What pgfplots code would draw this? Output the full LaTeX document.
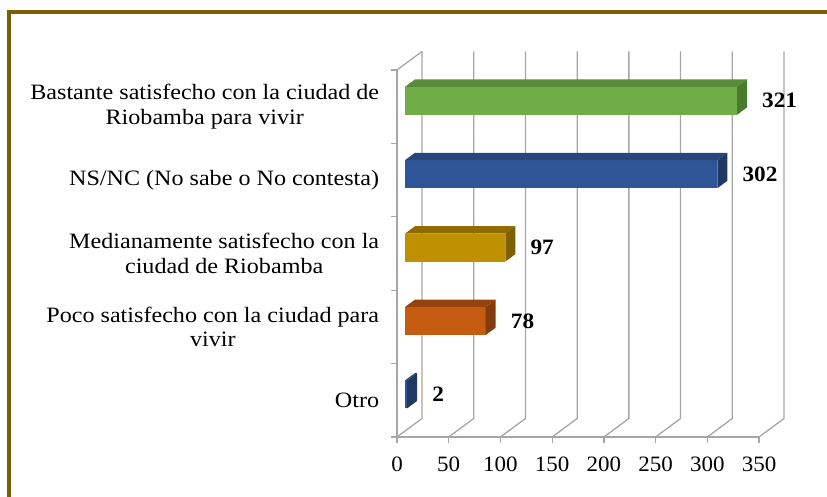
\documentclass[border=0pt]{standalone}
\usepackage{pgfplots}
\pgfplotsset{compat=1.18}
\usepackage{fontspec}
\setmainfont{Liberation Serif}
\definecolor{framec}{HTML}{7F6000}
\definecolor{gridc}{HTML}{A6A6A6}
\definecolor{gF}{HTML}{70AD47}\definecolor{gT}{HTML}{5A8C3A}\definecolor{gS}{HTML}{4A7A2C}
\definecolor{bF}{HTML}{2E5597}\definecolor{bT}{HTML}{28467C}\definecolor{bS}{HTML}{1F3864}
\definecolor{yF}{HTML}{BF9000}\definecolor{yT}{HTML}{8F6C00}\definecolor{yS}{HTML}{7F6000}
\definecolor{oF}{HTML}{C55A11}\definecolor{oT}{HTML}{95430D}\definecolor{oS}{HTML}{843C0C}
\newcommand{\lblfont}{\fontsize{22}{24.5}\selectfont}
\begin{document}
\begin{tikzpicture}[x=1bp,y=1bp]
\useasboundingbox (0,0) rectangle (827,497);
\draw[framec, line width=4bp] (9,0) -- (9,485) -- (827,485);
% front plane axis
\begin{axis}[
  at={(397bp,60bp)}, anchor=south west, scale only axis,
  width=362bp, height=367bp,
  xmin=0, xmax=350, ymin=-0.5, ymax=4.5, clip=false,
  axis x line*=bottom, axis y line*=left,
  axis line style={gridc, line width=1.3bp},
  tick align=outside, major tick length=6bp,
  tick style={gridc, line width=1.3bp},
  xtick={0,50,...,350},
  xticklabel={\pgfmathprintnumber[assume math mode=true]{\tick}},
  ytick={-0.5,0.5,1.5,2.5,3.5,4.5},
  yticklabels={,,,,,},
  extra y ticks={0,1,2,3,4},
  extra y tick labels={Otro,{Poco satisfecho con la ciudad para\\vivir},{Medianamente satisfecho con la\\ciudad de Riobamba},{NS/NC (No sabe o No contesta)},{Bastante satisfecho con la ciudad de\\Riobamba para vivir}},
  extra y tick style={major tick length=0pt},
  tick label style={font=\lblfont},
  yticklabel style={align=center, xshift=-14bp, xscale=1.10},
  xticklabel style={yshift=-10bp, xscale=1.05},
]
% floor diagonals and back wall grid lines
\addplot[gridc, line width=1.3bp, forget plot] coordinates {(0,-0.5) (24.17,-0.248) (24.17,4.752)};
\addplot[gridc, line width=1.3bp, forget plot] coordinates {(50,-0.5) (74.17,-0.248) (74.17,4.752)};
\addplot[gridc, line width=1.3bp, forget plot] coordinates {(100,-0.5) (124.17,-0.248) (124.17,4.752)};
\addplot[gridc, line width=1.3bp, forget plot] coordinates {(150,-0.5) (174.17,-0.248) (174.17,4.752)};
\addplot[gridc, line width=1.3bp, forget plot] coordinates {(200,-0.5) (224.17,-0.248) (224.17,4.752)};
\addplot[gridc, line width=1.3bp, forget plot] coordinates {(250,-0.5) (274.17,-0.248) (274.17,4.752)};
\addplot[gridc, line width=1.3bp, forget plot] coordinates {(300,-0.5) (324.17,-0.248) (324.17,4.752)};
\addplot[gridc, line width=1.3bp, forget plot] coordinates {(350,-0.5) (374.17,-0.248) (374.17,4.752)};
\addplot[gridc, line width=1.3bp, forget plot] coordinates {(0,4.5) (24.17,4.752)};
\end{axis}
% bar plane axis
\begin{axis}[
  at={(405bp,65.9bp)}, anchor=south west, scale only axis,
  width=362bp, height=367bp,
  xmin=0, xmax=350, ymin=-0.5, ymax=4.5, clip=false, hide axis,
  nodes near coords style={anchor=west, inner sep=0pt, xshift=25bp, xscale=1.06, font=\lblfont\bfseries, black},
]
% front faces (data)
\addplot[xbar, bar width=28bp, bar shift=0pt, fill=gF, draw=none, nodes near coords={\pgfmathprintnumber[assume math mode=true]{\pgfplotspointmeta}}] coordinates {(321,4)};
\addplot[xbar, bar width=28bp, bar shift=0pt, fill=bF, draw=none, nodes near coords={\pgfmathprintnumber[assume math mode=true]{\pgfplotspointmeta}}] coordinates {(302,3)};
\addplot[xbar, bar width=28bp, bar shift=0pt, fill=yF, draw=none, nodes near coords={\pgfmathprintnumber[assume math mode=true]{\pgfplotspointmeta}}] coordinates {(97,2)};
\addplot[xbar, bar width=28bp, bar shift=0pt, fill=oF, draw=none, nodes near coords={\pgfmathprintnumber[assume math mode=true]{\pgfplotspointmeta}}] coordinates {(78,1)};
\addplot[xbar, bar width=28bp, bar shift=0pt, fill=bF, draw=none, nodes near coords={\pgfmathprintnumber[assume math mode=true]{\pgfplotspointmeta}}] coordinates {(2,0)};
% top and side faces
\addplot[fill=gT, draw=none, forget plot] coordinates {(0,4.1907) (321,4.1907) (330.67,4.2915) (9.67,4.2915)};
\addplot[fill=gS, draw=none, forget plot] coordinates {(321,3.8093) (330.67,3.9101) (330.67,4.2915) (321,4.1907)};
\addplot[fill=bT, draw=none, forget plot] coordinates {(0,3.1907) (302,3.1907) (311.67,3.2915) (9.67,3.2915)};
\addplot[fill=bS, draw=none, forget plot] coordinates {(302,2.8093) (311.67,2.9101) (311.67,3.2915) (302,3.1907)};
\addplot[fill=yT, draw=none, forget plot] coordinates {(0,2.1907) (97,2.1907) (106.67,2.2915) (9.67,2.2915)};
\addplot[fill=yS, draw=none, forget plot] coordinates {(97,1.8093) (106.67,1.9101) (106.67,2.2915) (97,2.1907)};
\addplot[fill=oT, draw=none, forget plot] coordinates {(0,1.1907) (78,1.1907) (87.67,1.2915) (9.67,1.2915)};
\addplot[fill=oS, draw=none, forget plot] coordinates {(78,0.8093) (87.67,0.9101) (87.67,1.2915) (78,1.1907)};
\addplot[fill=bT, draw=none, forget plot] coordinates {(0,0.1907) (2,0.1907) (11.67,0.2915) (9.67,0.2915)};
\addplot[fill=bS, draw=none, forget plot] coordinates {(2,-0.1907) (11.67,-0.0899) (11.67,0.2915) (2,0.1907)};
\end{axis}
\end{tikzpicture}
\end{document}
